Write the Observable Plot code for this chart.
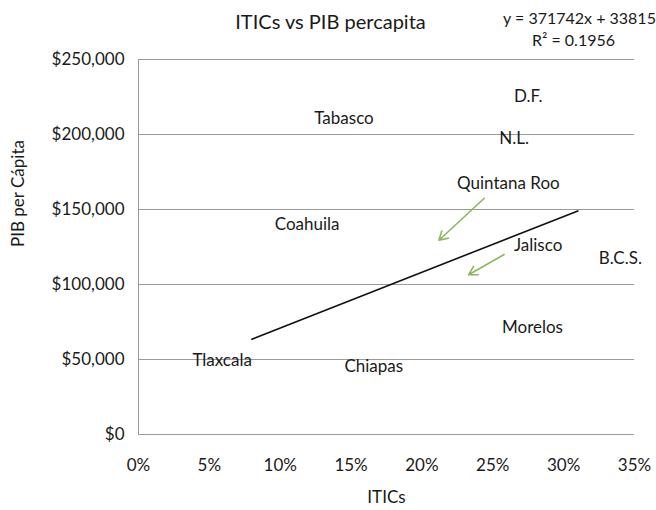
<!DOCTYPE html>
<html>
<head>
<meta charset="utf-8">
<script src="https://cdn.jsdelivr.net/npm/d3@7"></script>
<script src="https://cdn.jsdelivr.net/npm/@observablehq/plot@0.6"></script>
<style>
  html, body { margin: 0; padding: 0; background: #fff; }
</style>
</head>
<body>
<div id="chart"></div>
<script>
// State labels and their (ITICs, PIB per cápita) positions
const states = ["D.F.", "Tabasco", "N.L.", "Quintana Roo", "Coahuila", "Jalisco", "B.C.S.", "Morelos", "Tlaxcala", "Chiapas"];
const itics  = [0.275, 0.145, 0.265, 0.261, 0.119, 0.282, 0.340, 0.278, 0.059, 0.166];
const pib    = [225000, 210500, 197500, 167500, 140000, 126000, 117500, 71500, 49500, 45500];

// Linear trendline endpoints (y = 371742x + 33815)
const trendX = [0.08, 0.31];
const trendY = [63555, 149055];

// Annotation arrows
const arrowX1 = [0.244, 0.258];
const arrowY1 = [157500, 120000];
const arrowX2 = [0.212, 0.233];
const arrowY2 = [129500, 106500];

const xTicks = [0, 0.05, 0.10, 0.15, 0.20, 0.25, 0.30, 0.35];
const yTicks = [0, 50000, 100000, 150000, 200000, 250000];

const titleText = "ITICs vs PIB percapita";
const eqLine1 = "y = 371742x + 33815";
const eqLine2 = "R² = 0.1956";
const xLabel = "ITICs";
const yLabel = "PIB per Cápita";

const points = states.map((s, i) => ({label: s, x: itics[i], y: pib[i]}));
const trend = trendX.map((x, i) => ({x, y: trendY[i]}));
const arrows = arrowX1.map((x1, i) => ({x1, y1: arrowY1[i], x2: arrowX2[i], y2: arrowY2[i]}));

const chart = Plot.plot({
  width: 656,
  height: 510,
  marginLeft: 138,
  marginRight: 22,
  marginTop: 59,
  marginBottom: 76,
  style: {fontFamily: "Lato, 'Open Sans', sans-serif", fontSize: "17px", color: "#1a1a1a", background: "#fff"},
  x: {domain: [0, 0.35], ticks: xTicks, tickFormat: d3.format(".0%"), tickSize: 0, tickPadding: 24, label: null},
  y: {domain: [0, 250000], ticks: yTicks, tickFormat: d3.format("$,"), tickSize: 0, tickPadding: 14, label: null},
  marks: [
    Plot.gridY(yTicks, {stroke: "#9a9a9a", strokeOpacity: 1, strokeWidth: 1}),
    Plot.ruleX([0], {stroke: "#9a9a9a", strokeWidth: 1}),
    Plot.line(trend, {x: "x", y: "y", stroke: "#111", strokeWidth: 1.6}),
    Plot.arrow(arrows, {x1: "x1", y1: "y1", x2: "x2", y2: "y2", stroke: "#8fb55e", strokeWidth: 1.6, headLength: 9, bend: 0}),
    Plot.text(points, {x: "x", y: "y", text: "label", fontSize: 17, fill: "#1a1a1a"}),
    Plot.text([titleText], {frameAnchor: "top", lineAnchor: "middle", dx: -56, dy: -37, fontSize: 20, fill: "#1a1a1a"}),
    Plot.text([eqLine1], {frameAnchor: "top-right", lineAnchor: "middle", textAnchor: "middle", dx: -55, dy: -41, fontSize: 16, fill: "#1a1a1a"}),
    Plot.text([eqLine2], {frameAnchor: "top-right", lineAnchor: "middle", textAnchor: "middle", dx: -61, dy: -19, fontSize: 16, fill: "#1a1a1a"}),
    Plot.text([xLabel], {frameAnchor: "bottom", lineAnchor: "middle", dy: 63, fontSize: 17, fill: "#1a1a1a"}),
    Plot.text([yLabel], {frameAnchor: "left", lineAnchor: "middle", dx: -120, rotate: -90, fontSize: 17, fill: "#1a1a1a"})
  ]
});
document.getElementById("chart").appendChild(chart);
</script>
</body>
</html>
